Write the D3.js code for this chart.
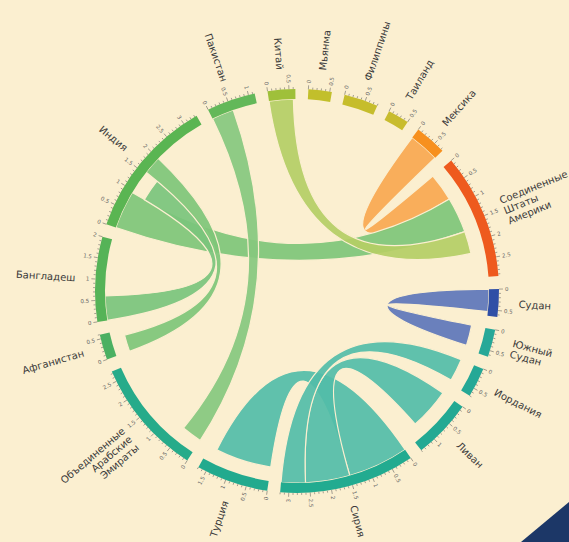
<!DOCTYPE html>
<html>
<head>
<meta charset="utf-8">
<script src="https://cdn.jsdelivr.net/npm/d3@7.9.0/dist/d3.min.js"></script>
<style>
  html, body { margin: 0; padding: 0; background: #fbefd0; }
  svg { display: block; font-family: "DejaVu Sans", sans-serif; }
</style>
</head>
<body>
<svg id="chart" width="569" height="542"></svg>
<script>
// groups, clockwise starting from India
const countries = ['Индия', 'Пакистан', 'Китай', 'Мьянма', 'Филиппины', 'Таиланд', 'Мексика', 'США',
  'Судан', 'Южный Судан', 'Иордания', 'Ливан', 'Сирия', 'Турция', 'ОАЭ', 'Афганистан', 'Бангладеш'];
const labelLines = [['Индия'], ['Пакистан'], ['Китай'], ['Мьянма'], ['Филиппины'], ['Таиланд'], ['Мексика'],
  ['Соединенные', 'Штаты', 'Америки'], ['Судан'], ['Южный', 'Судан'], ['Иордания'], ['Ливан'], ['Сирия'],
  ['Турция'], ['Объединенные', 'Арабские', 'Эмираты'], ['Афганистан'], ['Бангладеш']];
const totals = [3.35, 1.15, 0.65, 0.55, 0.8, 0.5, 0.75, 2.95, 0.65, 0.65, 0.7, 1.4, 3.2, 1.7, 2.75, 0.6, 2.0];
const arcColors = ['#5ab552', '#63b859', '#9fc03a', '#c2bf2b', '#c6bd2c', '#c8bc2e', '#f7901e', '#ee5a1e',
  '#2f4fa6', '#27a898', '#25a896', '#23a993', '#22ab90', '#22aa8e', '#26ab8a', '#4bb062', '#55b357'];

// flows (millions), in the order they sit on the arcs
const flowFrom = ['Мексика', 'Индия', 'Китай', 'Пакистан', 'Бангладеш', 'Индия',
  'Судан', 'Сирия', 'Сирия', 'Сирия'];
const flowTo = ['США', 'США', 'США', 'ОАЭ', 'Индия', 'Афганистан',
  'Южный Судан', 'Турция', 'Ливан', 'Иордания'];
const flowValues = [0.75, 0.95, 0.6, 0.55, 0.6, 0.45, 0.55, 1.5, 1.1, 0.6];

const bg = '#fbefd0';
const width = 569, height = 542;
const cx = 297, cy = 291;
const rOuter = 202, rInner = 192, rTarget = 178;
const deg = Math.PI / 180;
const pad = 3.7 * deg;
const start = 289.3 * deg - pad / 2;

const svg = d3.select('#chart');
svg.append('rect').attr('width', width).attr('height', height).attr('fill', bg);

const g = svg.append('g').attr('transform', `translate(${cx},${cy})`);

const pie = d3.pie().sort(null).value(d => d)
  .startAngle(start).endAngle(start + 2 * Math.PI).padAngle(pad);

const groups = pie(totals).map((d, i) => {
  const s = d.startAngle + pad / 2, e = d.endAngle - pad / 2;
  return {
    index: i, name: countries[i], total: totals[i], startAngle: s, endAngle: e,
    scale: d3.scaleLinear().domain([0, totals[i]]).range([s, e])
  };
});

// allocate flow ends along each arc
const cursor = totals.map(() => 0);
const flows = flowValues.map((v, k) => {
  const s = countries.indexOf(flowFrom[k]), t = countries.indexOf(flowTo[k]);
  const src = { startAngle: groups[s].scale(cursor[s]), endAngle: groups[s].scale(cursor[s] + v), radius: rInner };
  cursor[s] += v;
  const tgt = { startAngle: groups[t].scale(cursor[t]), endAngle: groups[t].scale(cursor[t] + v), radius: rTarget };
  cursor[t] += v;
  return { source: src, target: tgt, color: arcColors[s] };
});

const ribbon = d3.ribbon().radius(d => d.radius);

g.append('g').attr('class', 'ribbons')
  .selectAll('path')
  .data(flows)
  .join('path')
  .attr('d', ribbon)
  .attr('fill', d => d3.interpolateRgb(d.color, '#ffffff')(0.22))
  .attr('fill-opacity', 0.92)
  .attr('stroke', bg)
  .attr('stroke-width', 1.2);

const arc = d3.arc().innerRadius(rInner).outerRadius(rOuter);
g.append('g').attr('class', 'arcs')
  .selectAll('path')
  .data(groups)
  .join('path')
  .attr('d', arc)
  .attr('fill', d => arcColors[d.index]);

// ticks
const tickG = g.append('g').attr('class', 'ticks');
groups.forEach(gr => {
  const n = Math.floor(gr.total / 0.1 + 1e-6);
  const ticks = d3.range(0, n + 1).map(i => ({ v: i * 0.1, major: i % 5 === 0, a: gr.scale(i * 0.1) }));
  tickG.selectAll(null)
    .data(ticks)
    .join('line')
    .attr('transform', d => `rotate(${d.a / deg - 90})`)
    .attr('x1', rOuter)
    .attr('x2', d => rOuter + (d.major ? 4 : 2))
    .attr('stroke', '#555')
    .attr('stroke-width', 0.5);
  tickG.selectAll(null)
    .data(ticks.filter(d => d.major))
    .join('text')
    .attr('transform', d => {
      const a = d.a / deg;
      return a % 360 < 180 ? `rotate(${a - 90}) translate(${rOuter + 6},0)`
        : `rotate(${a + 90}) translate(${-(rOuter + 6)},0)`;
    })
    .attr('text-anchor', d => (d.a / deg) % 360 < 180 ? 'start' : 'end')
    .attr('dy', '0.35em')
    .attr('font-size', 5.5)
    .attr('fill', '#666')
    .text(d => d3.format('~g')(+d.v.toFixed(1)));
});

// country labels
const nameG = g.append('g').attr('class', 'names');
nameG.selectAll('text')
  .data(groups)
  .join('text')
  .attr('transform', d => {
    const a = ((d.startAngle + d.endAngle) / 2) / deg;
    return a % 360 < 180 ? `rotate(${a - 90}) translate(${rOuter + 20},0)`
      : `rotate(${a + 90}) translate(${-(rOuter + 20)},0)`;
  })
  .attr('text-anchor', d => (((d.startAngle + d.endAngle) / 2) / deg) % 360 < 180 ? 'start' : 'end')
  .attr('font-size', 10)
  .attr('fill', '#3a3a3a')
  .each(function (d) {
    const lines = labelLines[d.index];
    const t = d3.select(this);
    lines.forEach((l, i) => {
      t.append('tspan')
        .attr('x', 0)
        .attr('y', (i - (lines.length - 1) / 2 + (lines.length > 2 ? 0.4 : 0)) * 11)
        .attr('dy', '0.35em')
        .text(l);
    });
  });

// corner decoration
svg.append('path')
  .attr('d', `M${width - 48},${height} L${width},${height - 40} L${width},${height} Z`)
  .attr('fill', '#1c3767');
</script>
</body>
</html>
